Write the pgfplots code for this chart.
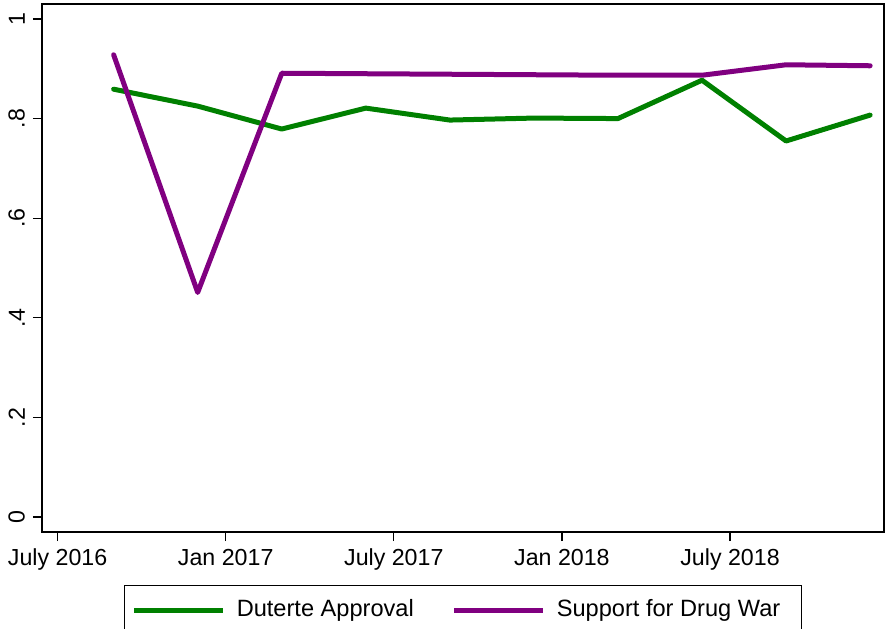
\documentclass[border=0pt]{standalone}
\usepackage{pgfplots}
\pgfplotsset{compat=1.18}
\usepackage{fontspec}
\setmainfont{Liberation Sans}
\definecolor{stgreen}{RGB}{0,128,0}
\definecolor{stpurple}{RGB}{128,0,128}
\begin{document}
\fontsize{11.6}{14}\selectfont
\begin{tikzpicture}
\useasboundingbox (-21pt,-48pt) rectangle (422pt,266pt);
\begin{axis}[
  at={(0pt,0pt)}, anchor=south west,
  scale only axis,
  width=421pt, height=264pt,
  xmin=-0.557, xmax=29.496,
  ymin=-0.030, ymax=1.030,
  xtick={0,6,12,18,24},
  xticklabels={July 2016,Jan 2017,July 2017,Jan 2018,July 2018},
  ytick={0,0.2,0.4,0.6,0.8,1},
  yticklabels={0,.2,.4,.6,.8,1},
  yticklabel style={rotate=90, anchor=south},
  tick pos=left,
  tick align=outside,
  major tick length=4.5pt,
  every tick/.style={black, line width=0.6pt},
  axis line style={line width=0.7pt},
  /pgf/number format/assume math mode=true,
  tick label style={font=\fontsize{11.6}{14}\selectfont},
  legend columns=2,
  legend style={at={(0.5,0)}, anchor=north, yshift=-26.5pt,
    draw=black, line width=0.7pt, inner xsep=3.5pt, inner ysep=5pt,
    font=\fontsize{11.8}{14}\selectfont,
    /tikz/every odd column/.append style={column sep=3.5pt},
    /tikz/every even column/.append style={column sep=17pt}},
  legend cell align=left,
  legend image code/.code={\draw[#1, line cap=butt] (0pt,0pt) -- (44.5pt,0pt);},
]
\addplot[stgreen, line width=2.5pt, line join=round, line cap=round] coordinates {
 (2,0.859) (5,0.825) (8,0.779) (11,0.821) (14,0.797) (17,0.801) (20,0.800) (23,0.877) (26,0.755) (29,0.807)
};
\addlegendentry{Duterte Approval}
\addplot[stpurple, line width=2.5pt, line join=round, line cap=round] coordinates {
 (2,0.928) (5,0.451) (8,0.891) (11,0.890) (14,0.889) (17,0.888) (20,0.887) (23,0.887) (26,0.908) (29,0.906)
};
\addlegendentry{Support for Drug War\kern5pt\mbox{}}
\end{axis}
\end{tikzpicture}
\end{document}
